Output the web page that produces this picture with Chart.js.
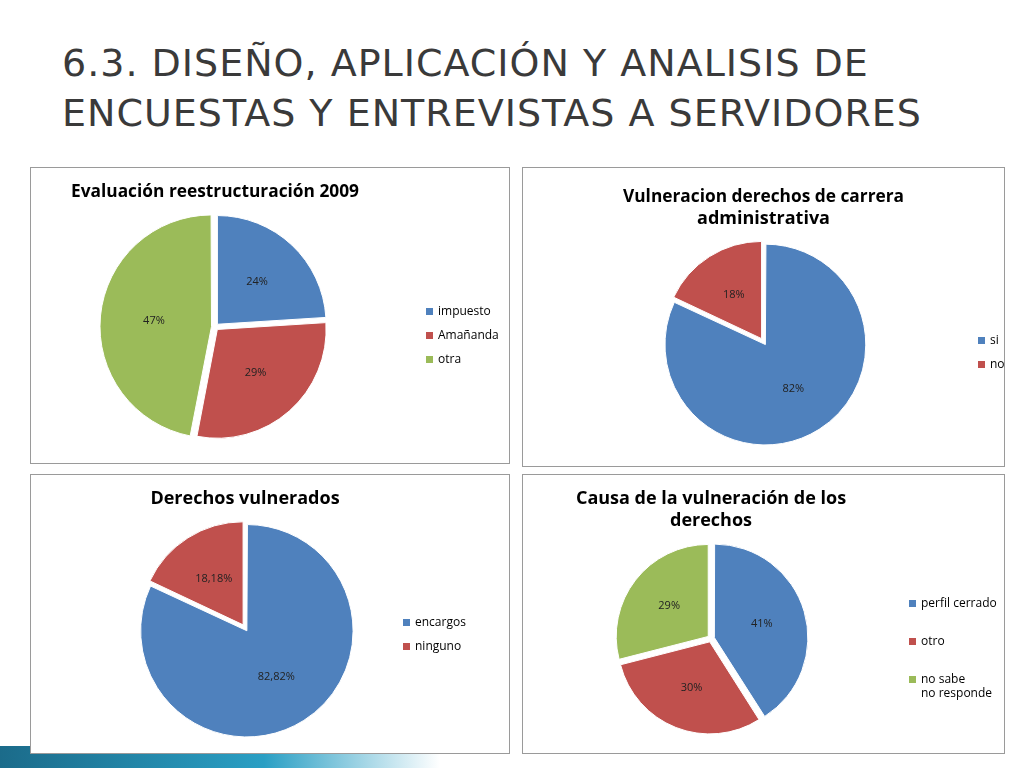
<!DOCTYPE html>
<html><head><meta charset="utf-8">
<script src="https://cdn.jsdelivr.net/npm/chart.js@4"></script>
<style>
body{margin:0;width:1024px;height:768px;background:#fff;position:relative;overflow:hidden;font-family:"Open Sans",sans-serif}
h1{position:absolute;left:62px;top:38px;margin:0;font:normal 38px/50px "DejaVu Sans",sans-serif;color:#3a3a3a;letter-spacing:1px}
.panel{position:absolute;border:1px solid #9a9a9a;background:#fff}
.panel canvas{position:absolute;left:0;top:0}
.leg{position:absolute;font:12px "Open Sans",sans-serif;color:#000}
.leg div{position:relative;padding-left:12px;margin-bottom:10px;line-height:14px}
.leg span{position:absolute;left:0;top:4px;width:7px;height:7px}
.bar{position:absolute;left:0;bottom:0;height:22px;width:440px;background:linear-gradient(90deg,#1b6b8a,#2a9fc4 60%,#fff)}
</style></head><body>
<div class="bar"></div>
<h1>6.3. DISEÑO, APLICACIÓN Y ANALISIS DE<br>ENCUESTAS Y ENTREVISTAS A SERVIDORES</h1>
<div id="p0" class="panel" style="left:30px;top:167px;width:478px;height:295px"></div>
<div id="p1" class="panel" style="left:522px;top:167px;width:481px;height:298px"></div>
<div id="p2" class="panel" style="left:30px;top:474px;width:478px;height:278px"></div>
<div id="p3" class="panel" style="left:522px;top:474px;width:481px;height:278px"></div>
<script>
const colors=['#4F81BD','#C0504D','#9BBB59'];
const titles=[['Evaluación reestructuración 2009'],['Vulneracion derechos de carrera','administrativa'],['Derechos vulnerados'],['Causa de la vulneración de los','derechos']];
const labels1=['impuesto','Amañanda','otra'];
const values1=[24,29,47];
const text1=['24%','29%','47%'];
const labels2=['si','no'];
const values2=[82,18];
const text2=['82%','18%'];
const labels3=['encargos','ninguno'];
const values3=[82.82,18.18];
const text3=['82,82%','18,18%'];
const labels4=['perfil cerrado','otro','no sabe\nno responde'];
const values4=[41,30,29];
const text4=['41%','30%','29%'];
const cfgs=[
 {l:labels1,v:values1,t:text1,pad:{left:40,right:150,top:5,bottom:20},leg:[395,136,10]},
 {l:labels2,v:values2,t:text2,pad:{left:100,right:100,top:10,bottom:20},leg:[455,165,10]},
 {l:labels3,v:values3,t:text3,pad:{left:80,right:130,top:5,bottom:15},leg:[372,140,10]},
 {l:labels4,v:values4,t:text4,pad:{left:15,right:120,top:5,bottom:15},leg:[386,121,24]}
];
const pctPlugin={id:'pct',afterDatasetsDraw(ch){const ctx=ch.ctx;const meta=ch.getDatasetMeta(0);const t=ch.config.options.plugins.pct.texts;
 ctx.save();ctx.font='11px "Open Sans",sans-serif';ctx.fillStyle='#222';ctx.textAlign='center';ctx.textBaseline='middle';
 meta.data.forEach((a,i)=>{const p=a.tooltipPosition();ctx.fillText(t[i],p.x,p.y);});ctx.restore();}};
cfgs.forEach((c,k)=>{
 const p=document.getElementById('p'+k);const cv=document.createElement('canvas');
 cv.width=p.clientWidth;cv.height=p.clientHeight;cv.style.width=cv.width+'px';cv.style.height=cv.height+'px';p.appendChild(cv);
 new Chart(cv,{type:'pie',data:{labels:c.l,datasets:[{data:c.v,backgroundColor:colors.slice(0,c.v.length),borderColor:'#fff',borderWidth:1,offset:14}]},
  options:{responsive:false,animation:false,layout:{padding:c.pad},
   plugins:{legend:{display:false},tooltip:{enabled:false},pct:{texts:c.t},
    title:{display:true,text:titles[k],font:{family:'"Open Sans",sans-serif',size:18,weight:'bold'},color:'#000',padding:{top:8,bottom:8}}}},
  plugins:[pctPlugin]});
 const lg=document.createElement('div');lg.className='leg';lg.style.left=c.leg[0]+'px';lg.style.top=c.leg[1]+'px';
 c.l.forEach((s,i)=>{const d=document.createElement('div');d.style.marginBottom=c.leg[2]+'px';d.innerHTML='<span style="background:'+colors[i]+'"></span>'+s.replace('\n','<br>');lg.appendChild(d);});
 p.appendChild(lg);
});
</script></body></html>
